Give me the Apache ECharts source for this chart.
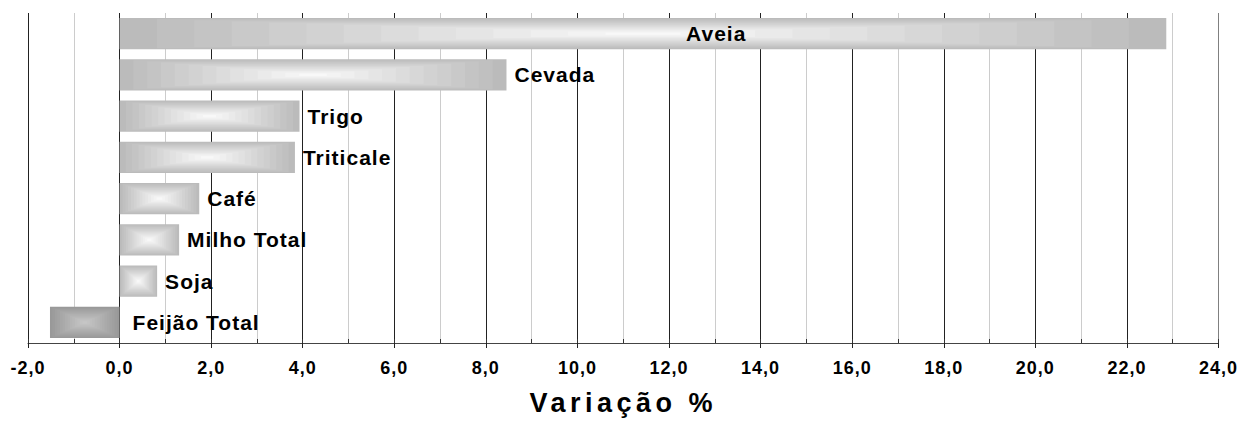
<!DOCTYPE html>
<html lang="pt">

<head>
    <meta charset="UTF-8">
    <title>Variação %</title>
    <script src="https://cdn.jsdelivr.net/npm/echarts@6/dist/echarts.min.js"></script>
    <style>
        html, body {
            margin: 0;
            height: 100%;
            background: #fff;
        }

        #chart {
            width: 1239px;
            height: 421px;
        }

        /* o Excel desenha o texto bem espaçado */
        #chart svg text {
            letter-spacing: 1px;
        }

        #chart svg text[style*="27px"] {
            letter-spacing: 4.5px;
        }
    </style>
</head>

<body>
    <div id="chart"></div>
    <script>
        // culturas, de cima para baixo
        var categories = ['Aveia', 'Cevada', 'Trigo', 'Triticale', 'Café', 'Milho Total', 'Soja', 'Feijão Total'];
        var values = [22.86, 8.45, 3.93, 3.83, 1.74, 1.30, 0.82, -1.52];
        var axisName = 'Variação %';

        var FONT = '"Liberation Sans", Arial, sans-serif';
        var STEPS = 14;

        function mix(a, b, t) {
            var c = [];
            for (var i = 0; i < 3; i++) c.push(Math.round(a[i] + (b[i] - a[i]) * t));
            return 'rgb(' + c.join(',') + ')';
        }

        // barra com gradiente "do centro" em degraus, como no Excel
        function renderBar(params, api) {
            var v = api.value(0);
            var idx = api.value(1);
            var p0 = api.coord([0, idx]);
            var p1 = api.coord([v, idx]);
            var h = api.size([0, 1])[1] * 0.76;
            var x0 = Math.min(p0[0], p1[0]);
            var w = Math.abs(p1[0] - p0[0]);
            var cx = x0 + w / 2, cy = p0[1];
            var outer = v < 0 ? [153, 153, 153] : [187, 187, 187];
            var inner = v < 0 ? [198, 198, 198] : [248, 248, 248];
            var children = [];
            for (var k = 0; k < STEPS; k++) {
                var s = 1 - k / STEPS;
                children.push({
                    type: 'rect',
                    shape: { x: cx - w * s / 2, y: cy - h * s / 2, width: w * s, height: h * s },
                    style: { fill: mix(outer, inner, k / (STEPS - 1)) },
                    silent: true
                });
            }
            var name = categories[params.dataIndex];
            var end = Math.max(p0[0], p1[0]);
            var gridRight = params.coordSys.x + params.coordSys.width;
            var lbl;
            if (end + 70 > gridRight) {
                lbl = { x: x0 + w * 0.57, y: cy, align: 'center' };
            } else {
                lbl = { x: end + (v < 0 ? 13 : 8), y: cy, align: 'left' };
            }
            children.push({
                type: 'text',
                x: lbl.x,
                y: lbl.y,
                style: {
                    text: name,
                    fill: '#000',
                    font: 'bold 21px ' + FONT,
                    align: lbl.align,
                    verticalAlign: 'middle'
                },
                silent: true
            });
            return { type: 'group', children: children };
        }

        var seriesData = values.map(function (v, i) { return [v, i]; });

        var majorColors = [];
        for (var i = 0; i < 13; i++) majorColors.push('#222');
        majorColors.push('#808080');

        var chart = echarts.init(document.getElementById('chart'), null, { renderer: 'svg' });
        chart.setOption({
            animation: false,
            grid: { left: 28, right: 20, top: 13, bottom: 72 },
            xAxis: [{
                type: 'value',
                min: -2,
                max: 24,
                interval: 2,
                name: axisName,
                nameLocation: 'middle',
                nameGap: 46,
                nameTextStyle: { fontFamily: FONT, fontWeight: 'bold', fontSize: 27, color: '#000' },
                axisLine: { show: true, lineStyle: { color: '#444', width: 1 } },
                axisTick: { show: true, length: 5, lineStyle: { color: '#222' } },
                axisLabel: {
                    margin: 16,
                    fontFamily: FONT,
                    fontWeight: 'bold',
                    fontSize: 18,
                    color: '#000',
                    formatter: function (v) { return v.toFixed(1).replace('.', ','); }
                },
                splitLine: { show: true, lineStyle: { color: majorColors, width: 1 } },
                minorTick: { show: false, splitNumber: 2 },
                minorSplitLine: { show: true, lineStyle: { color: '#cccccc', width: 1 } }
            }, {
                // marcas menores, viradas para dentro
                type: 'value',
                gridIndex: 0,
                position: 'bottom',
                offset: 0,
                min: -2,
                max: 24,
                interval: 1,
                axisLine: { show: false },
                axisTick: { show: true, inside: true, length: 4, lineStyle: { color: '#333' } },
                axisLabel: { show: false },
                splitLine: { show: false }
            }],
            yAxis: {
                type: 'category',
                data: categories,
                inverse: true,
                axisLine: { show: false },
                axisTick: { show: false },
                axisLabel: { show: false },
                splitLine: { show: false }
            },
            series: [{
                type: 'custom',
                renderItem: renderBar,
                encode: { x: 0, y: 1 },
                data: seriesData,
                clip: false
            }]
        });
    </script>
</body>

</html>
